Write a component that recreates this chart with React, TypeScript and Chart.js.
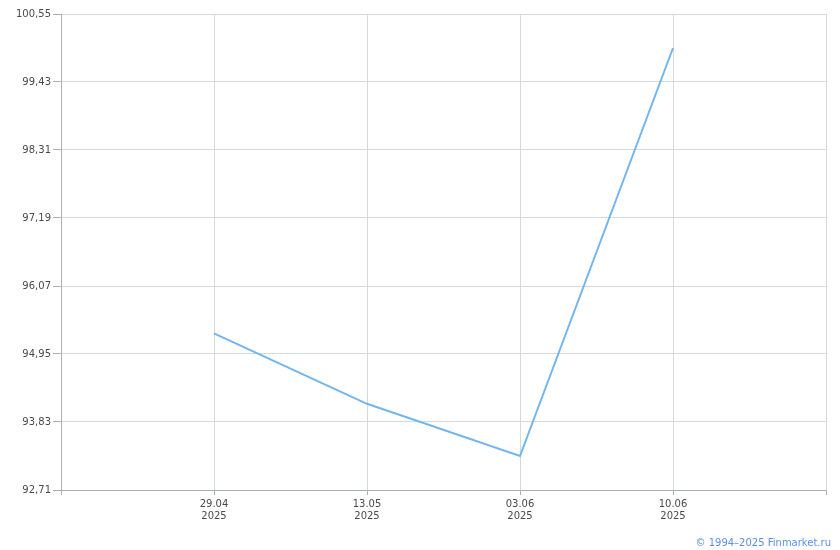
import React, { useEffect, useRef } from "react";
import { Chart, registerables } from "chart.js";

Chart.register(...registerables);

const categories = ["", "29.04", "13.05", "03.06", "10.06", ""];
const years = ["", "2025", "2025", "2025", "2025", ""];
const values: (number | null)[] = [null, 95.29, 94.13, 93.27, 99.99, null];
const yTicks = [92.71, 93.83, 94.95, 96.07, 97.19, 98.31, 99.43, 100.55];
const copyright = "© 1994–2025 Finmarket.ru";

const FONT = "Verdana, 'DejaVu Sans', sans-serif";
const GRID = "#d3d9df";
const AXIS = "#a9b0b8";

export default function App() {
  const ref = useRef<HTMLCanvasElement | null>(null);
  useEffect(() => {
    if (!ref.current) return;
    const chart = new Chart(ref.current, {
      type: "line",
      data: {
        labels: categories,
        datasets: [
          {
            data: values,
            borderColor: "#72b6ee",
            borderWidth: 2,
            pointRadius: 0,
            tension: 0,
            spanGaps: false,
          },
        ],
      },
      options: {
        animation: false,
        responsive: false,
        maintainAspectRatio: false,
        layout: { padding: { top: 14, right: 14, left: 0, bottom: 0 } },
        plugins: { legend: { display: false }, tooltip: { enabled: false } },
        scales: {
          x: {
            type: "category",
            offset: false,
            grid: { color: GRID, tickLength: 5, tickColor: AXIS, drawOnChartArea: true },
            border: { color: AXIS, width: 1 },
            ticks: {
              autoSkip: false,
              maxRotation: 0,
              padding: 3,
              color: "#4a4a4a",
              font: { family: FONT, size: 10, lineHeight: 1.25 },
              callback: (_v: any, i: number) => (categories[i] ? [categories[i], years[i]] : ""),
            },
            afterFit: (s: any) => {
              s.height = 60;
            },
          },
          y: {
            min: yTicks[0],
            max: yTicks[yTicks.length - 1],
            grid: { color: GRID, tickLength: 8, tickColor: AXIS },
            border: { color: AXIS, width: 1 },
            ticks: {
              padding: 2,
              color: "#4a4a4a",
              font: { family: FONT, size: 10 },
              callback: (v: any) => Number(v).toFixed(2).replace(".", ","),
            },
            afterBuildTicks: (s: any) => {
              s.ticks = yTicks.map((v) => ({ value: v }));
            },
            afterFit: (s: any) => {
              s.width = 61;
            },
          },
        },
      },
    });
    return () => chart.destroy();
  }, []);
  return (
    <div style={{ position: "fixed", left: 0, top: 0, width: 840, height: 550, background: "#fff" }}>
      <canvas ref={ref} width={840} height={550} style={{ display: "block" }} />
      <div
        style={{
          position: "absolute",
          right: 9,
          top: 537,
          fontFamily: FONT,
          fontSize: 10,
          color: "#5b8fe6",
          whiteSpace: "nowrap",
          lineHeight: "12px",
        }}
      >
        {copyright}
      </div>
    </div>
  );
}
